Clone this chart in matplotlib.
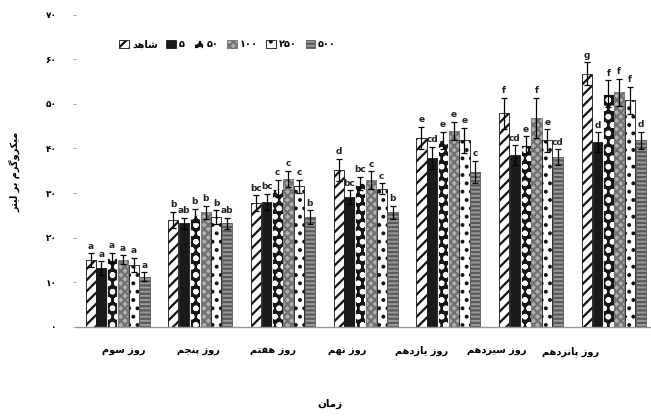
import matplotlib
matplotlib.use("Agg")
import matplotlib.pyplot as plt
import numpy as np

# Data
days = ["روز سوم", "روز پنجم", "روز هفتم", "روز نهم", "روز یازدهم", "روز سیزدهم", "روز پانزدهم"]
treatments = ["شاهد", "۵", "۵۰", "۱۰۰", "۲۵۰", "۵۰۰"]

control = [15.0, 24.0, 27.7, 35.1, 42.3, 47.9, 56.8]
dose_5 = [13.2, 23.2, 28.0, 29.1, 37.8, 38.5, 41.4]
dose_50 = [15.4, 25.0, 31.0, 32.2, 41.8, 40.7, 52.3]
dose_100 = [15.0, 25.7, 33.2, 32.9, 44.0, 46.8, 52.6]
dose_250 = [13.9, 24.6, 31.5, 31.0, 41.8, 41.8, 50.8]
dose_500 = [11.2, 23.2, 24.6, 25.7, 34.7, 38.0, 41.8]

err_control = [1.5, 1.8, 1.8, 2.5, 2.5, 3.5, 2.5]
err_5 = [1.5, 1.2, 1.8, 1.5, 2.5, 2.2, 2.2]
err_50 = [1.2, 1.5, 2.0, 1.5, 2.0, 2.0, 3.0]
err_100 = [1.0, 1.5, 1.8, 2.0, 2.0, 4.5, 3.0]
err_250 = [1.5, 1.5, 1.5, 1.2, 2.8, 2.5, 3.0]
err_500 = [1.0, 1.2, 1.5, 1.5, 2.5, 1.8, 2.0]

letters_control = ["a", "b", "bc", "d", "e", "f", "g"]
letters_5 = ["a", "ab", "bc", "bc", "cd", "cd", "d"]
letters_50 = ["a", "b", "c", "bc", "e", "e", "f"]
letters_100 = ["a", "b", "c", "c", "e", "f", "f"]
letters_250 = ["a", "b", "c", "c", "e", "e", "f"]
letters_500 = ["a", "ab", "b", "b", "c", "cd", "d"]

yticks = [0, 10, 20, 30, 40, 50, 60, 70]
ylabel = "میکروگرم بر لیتر"
xlabel = "زمان"


# --- minimal Persian shaping (matplotlib has no bidi / joining support) ---
FORMS = {
    # isolated, final, initial, medial
    "ا": ("\uFE8D", "\uFE8E", None, None),
    "ب": ("\uFE8F", "\uFE90", "\uFE91", "\uFE92"),
    "پ": ("\uFB56", "\uFB57", "\uFB58", "\uFB59"),
    "ت": ("\uFE95", "\uFE96", "\uFE97", "\uFE98"),
    "ج": ("\uFE9D", "\uFE9E", "\uFE9F", "\uFEA0"),
    "د": ("\uFEA9", "\uFEAA", None, None),
    "ر": ("\uFEAD", "\uFEAE", None, None),
    "ز": ("\uFEAF", "\uFEB0", None, None),
    "س": ("\uFEB1", "\uFEB2", "\uFEB3", "\uFEB4"),
    "ش": ("\uFEB5", "\uFEB6", "\uFEB7", "\uFEB8"),
    "ف": ("\uFED1", "\uFED2", "\uFED3", "\uFED4"),
    "ک": ("\uFB8E", "\uFB8F", "\uFB90", "\uFB91"),
    "گ": ("\uFB92", "\uFB93", "\uFB94", "\uFB95"),
    "ل": ("\uFEDD", "\uFEDE", "\uFEDF", "\uFEE0"),
    "م": ("\uFEE1", "\uFEE2", "\uFEE3", "\uFEE4"),
    "ن": ("\uFEE5", "\uFEE6", "\uFEE7", "\uFEE8"),
    "ه": ("\uFEE9", "\uFEEA", "\uFEEB", "\uFEEC"),
    "و": ("\uFEED", "\uFEEE", None, None),
    "ی": ("\uFBFC", "\uFBFD", "\uFBFE", "\uFBFF"),
}


def fa(text):
    if not any(c in FORMS for c in text):
        return text
    out = []
    for i, c in enumerate(text):
        if c not in FORMS:
            out.append(c)
            continue
        prev = text[i - 1] if i > 0 else ""
        nxt = text[i + 1] if i + 1 < len(text) else ""
        joins_prev = prev in FORMS and FORMS[prev][2] is not None
        joins_next = nxt in FORMS and FORMS[c][2] is not None
        iso, fin, ini, med = FORMS[c]
        if joins_prev and joins_next:
            out.append(med)
        elif joins_prev:
            out.append(fin)
        elif joins_next:
            out.append(ini)
        else:
            out.append(iso)
    return "".join(out)[::-1]


PERSIAN_DIGITS = str.maketrans("0123456789", "۰۱۲۳۴۵۶۷۸۹")

plt.rcParams["font.family"] = ["DejaVu Sans"]
plt.rcParams["hatch.linewidth"] = 1.6

series = [control, dose_5, dose_50, dose_100, dose_250, dose_500]
errors = [err_control, err_5, err_50, err_100, err_250, err_500]
letters = [letters_control, letters_5, letters_50, letters_100, letters_250, letters_500]
styles = [
    dict(facecolor="white", edgecolor="#111111", hatch="///"),
    dict(facecolor="#1a1a1a", edgecolor="#1a1a1a", hatch=None),
    dict(facecolor="#151515", edgecolor="white", hatch="oo"),
    dict(facecolor="#b0b0b0", edgecolor="#707070", hatch="xxxx"),
    dict(facecolor="white", edgecolor="#111111", hatch=".."),
    dict(facecolor="#9a9a9a", edgecolor="#5a5a5a", hatch="----"),
]

fig = plt.figure(figsize=(6.51, 4.19), dpi=100)
ax = fig.add_axes([0.117, 0.22, 0.883, 0.745])

x = np.arange(len(days))
width = 0.13
for j, (vals, errs, lets, st) in enumerate(zip(series, errors, letters, styles)):
    pos = x + (j - 2.5) * width
    ax.bar(pos, vals, width * 0.95, label=fa(treatments[j]), linewidth=0.6, **st)
    ax.errorbar(pos, vals, yerr=errs, fmt="none", ecolor="black",
                elinewidth=0.9, capsize=2.2, capthick=0.9)
    for p, v, e, t in zip(pos, vals, errs, lets):
        ax.text(p, v + e + 0.6, t, ha="center", va="bottom",
                fontsize=6.5, fontweight="bold", color="#222222")

ax.set_xlim(-0.5, 6.45)
ax.set_ylim(0, 70)
ax.set_yticks(yticks)
ax.set_yticklabels([str(t).translate(PERSIAN_DIGITS) for t in yticks],
                   fontsize=6.5, fontweight="bold")
ax.tick_params(axis="y", length=2, width=0.6, color="#999999", pad=12)

# category labels sit a bit compressed toward the left in the reference
ax.set_xticks(0.08 + x * 0.9)
ax.set_xticklabels([fa(d) for d in days], fontsize=7, fontweight="bold")
ax.tick_params(axis="x", length=0, pad=14)

for s in ["top", "right", "left"]:
    ax.spines[s].set_visible(False)
ax.spines["bottom"].set_color("#999999")
ax.spines["bottom"].set_linewidth(1.0)

ax.legend(loc="center left", bbox_to_anchor=(0.06, 0.905), ncol=6, frameon=False,
          handlelength=1.0, handleheight=0.9, handletextpad=0.3,
          columnspacing=0.9, prop=dict(weight="bold", size=7))

fig.text(0.022, 0.59, fa(ylabel), rotation=90, ha="center", va="center",
         fontsize=7, fontweight="bold")
fig.text(0.507, 0.035, fa(xlabel), ha="center", va="center",
         fontsize=7.5, fontweight="bold")

fig.savefig("out.png", dpi=100, facecolor="white")
